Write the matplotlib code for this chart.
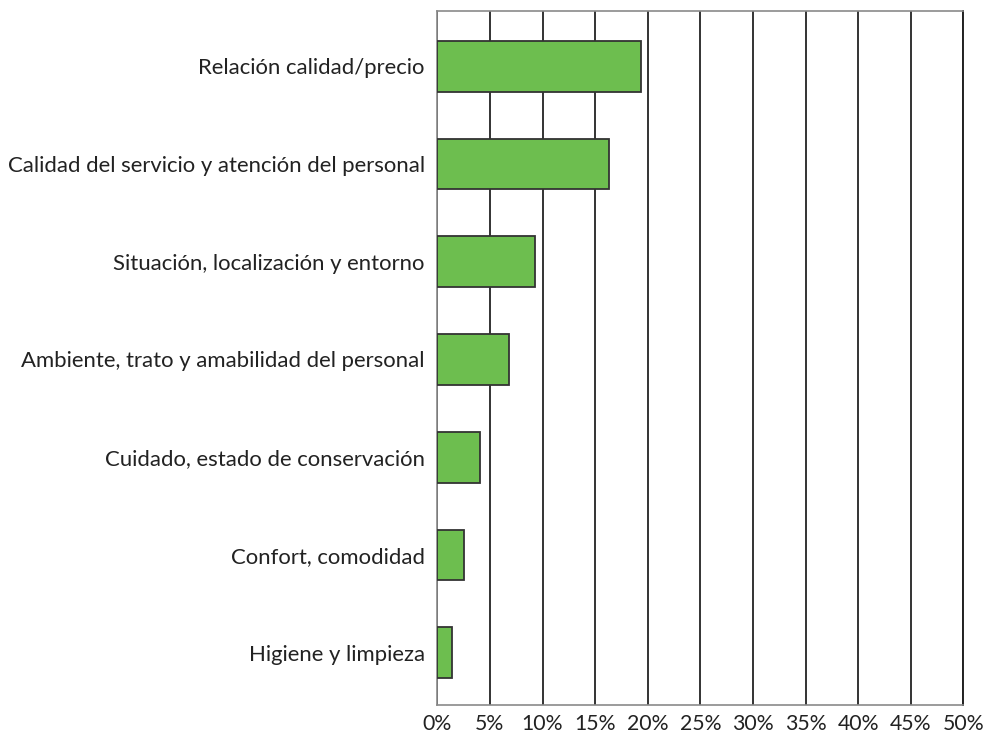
import matplotlib
matplotlib.use("Agg")
import matplotlib.pyplot as plt

categories = [
    "Relación calidad/precio",
    "Calidad del servicio y atención del personal",
    "Situación, localización y entorno",
    "Ambiente, trato y amabilidad del personal",
    "Cuidado, estado de conservación",
    "Confort, comodidad",
    "Higiene y limpieza",
]
values = [19.4, 16.3, 9.3, 6.8, 4.1, 2.5, 1.4]
ticks = [0, 5, 10, 15, 20, 25, 30, 35, 40, 45, 50]
tick_labels = [f"{t}%" for t in ticks]

plt.rcParams["font.family"] = ["Lato", "DejaVu Sans"]

fig = plt.figure(figsize=(9.95, 7.35), dpi=100)
ax = fig.add_axes([437.3 / 995, 1 - 704.5 / 735, (963.3 - 437.3) / 995, (704.5 - 10.5) / 735])

ypos = list(range(len(categories)))
ax.barh(ypos, values, height=0.52, color="#6dbe4f", edgecolor="#333333",
        linewidth=1.3, zorder=3)

ax.set_xlim(0, 50)
ax.set_ylim(6.53, -0.57)
ax.set_xticks(ticks)
ax.set_xticklabels(tick_labels, fontsize=15.3, color="#222222")
ax.set_yticks(ypos)
ax.set_yticklabels(categories, fontsize=15.9, color="#222222")
ax.tick_params(axis="both", length=0)
ax.tick_params(axis="y", pad=9)
ax.tick_params(axis="x", pad=7)

ax.xaxis.grid(True, color="#333333", linewidth=1.4, zorder=1)
ax.yaxis.grid(False)
for side in ("top", "bottom", "left", "right"):
    ax.spines[side].set_color("#8a8a8a")
    ax.spines[side].set_linewidth(1.2)
ax.spines["right"].set_color("#222222")
ax.spines["right"].set_linewidth(1.4)

fig.savefig("out.png", dpi=100)
